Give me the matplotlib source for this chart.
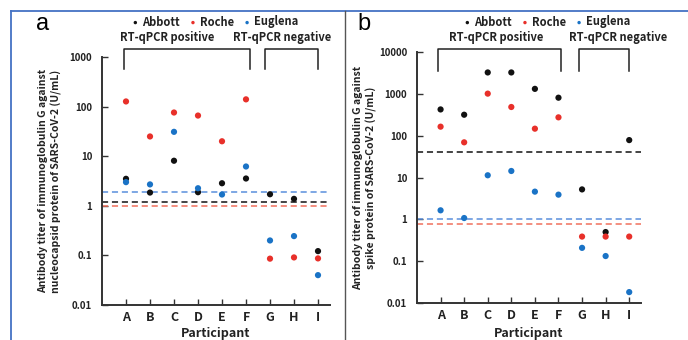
import matplotlib.pyplot as plt
from matplotlib.lines import Line2D
import numpy as np

plt.rcParams['font.family'] = ['Noto Sans CJK JP', 'DejaVu Sans']

participants = ['A', 'B', 'C', 'D', 'E', 'F', 'G', 'H', 'I']
assays = ['Abbott', 'Roche', 'Euglena']

# panel a: nucleocapsid IgG (U/mL)
n_abbott = [3.5, 1.85, 8.1, 1.88, 2.85, 3.55, 1.71, 1.38, 0.122]
n_roche = [127, 25, 76, 66, 20, 140, 0.086, 0.091, 0.087]
n_euglena = [3.0, 2.7, 31, 2.26, 1.69, 6.2, 0.20, 0.245, 0.040]
n_cutoff = {'Abbott': 1.22, 'Roche': 1.0, 'Euglena': 1.88}

# panel b: spike IgG (U/mL)
s_abbott = [420, 314, 3200, 3200, 1300, 800, 5.2, 0.50, 78]
s_roche = [163, 69, 1000, 480, 146, 272, 0.39, 0.39, 0.39]
s_euglena = [1.65, 1.08, 11.3, 14.3, 4.6, 3.9, 0.21, 0.134, 0.0185]
s_cutoff = {'Abbott': 41, 'Roche': 0.76, 'Euglena': 1.0}

dot_colors = {'Abbott': '#111111', 'Roche': '#e8302a', 'Euglena': '#1a73c6'}
line_colors = {'Abbott': '#111111', 'Roche': '#f0705c', 'Euglena': '#5a8fdc'}

W, H = 688, 340
fig = plt.figure(figsize=(W / 100, H / 100), dpi=100)


def px_axes(left, top, right, bottom):
    return fig.add_axes([left / W, 1 - bottom / H, (right - left) / W, (bottom - top) / H])


def panel(ax, series, cutoffs, yticks, ylabel, letter, label_x, text_x, brackets):
    x = np.arange(1, len(participants) + 1)
    for name, vals in zip(assays, series):
        ax.scatter(x, vals, s=20, color=dot_colors[name], zorder=3, label=name,
                   edgecolors='none')
    for name in ['Euglena', 'Abbott', 'Roche']:
        ax.axhline(cutoffs[name], color=line_colors[name], ls=(0, (4, 2.5)), lw=1.1, zorder=2)
    ax.set_yscale('log')
    ax.set_ylim(yticks[0], yticks[-1])
    ax.set_yticks(yticks)
    ax.set_yticklabels([('%g' % t) for t in yticks], fontsize=7, fontweight='bold', color='#222')
    ax.minorticks_off()
    ax.set_xlim(0, 9.5)
    ax.set_xticks(x)
    ax.set_xticklabels(participants, fontsize=9, fontweight='bold', color='#222')
    ax.tick_params(direction='in', length=4, width=1, color='#333')
    ax.tick_params(axis='y', pad=7)
    ax.tick_params(axis='x', pad=4)
    for s in ['top', 'right']:
        ax.spines[s].set_visible(False)
    for s in ['left', 'bottom']:
        ax.spines[s].set_linewidth(1.4)
        ax.spines[s].set_color('#333')

    # brackets over positive / negative groups
    tr = ax.get_xaxis_transform()
    for (x0, x1), (ytop, ybot) in brackets:
        ax.plot([x0, x0, x1, x1], [ybot, ytop, ytop, ybot], color='#222', lw=1.1,
                transform=tr, clip_on=False)

    pos = ax.get_position()
    fig.text(pos.x0 - 52 / W, pos.y0 + pos.height / 2, ylabel, rotation=90,
             ha='center', va='center', fontsize=7.5, fontweight='bold', color='#222',
             linespacing=1.35)
    fig.text(label_x / W, 1 - 24 / H, letter, fontsize=17, family='Liberation Sans',
             ha='center', va='center')
    leg = ax.legend(loc='center', bbox_to_anchor=(text_x[0] / W, 1 - 22 / H),
                    bbox_transform=fig.transFigure, ncol=3, frameon=False,
                    markerscale=0.55, handlelength=0.6, handletextpad=0.3,
                    columnspacing=0.9, prop={'size': 8, 'weight': 'bold'})
    for t in leg.get_texts():
        t.set_color('#222')
    fig.text(text_x[1] / W, 1 - 38 / H, 'RT-qPCR positive', fontsize=8, fontweight='bold',
             ha='center', va='center', color='#222')
    fig.text(text_x[2] / W, 1 - 38 / H, 'RT-qPCR negative', fontsize=8, fontweight='bold',
             ha='center', va='center', color='#222')
    fig.text((pos.x0 + pos.width / 2), 0, 'Participant', fontsize=9,
             fontweight='bold', ha='center', va='bottom', color='#222')


ax_a = px_axes(102, 57, 330, 305)
panel(ax_a, [n_abbott, n_roche, n_euglena], n_cutoff, [0.01, 0.1, 1, 10, 100, 1000],
      'Antibody titer of immunoglobulin G against\nnucleocapsid protein of SARS-CoV-2 (U/mL)',
      'a', 43, (215, 167, 282),
      [((0.92, 6.15), (1.033, 0.953)), ((6.8, 8.98), (1.033, 0.953))])

ax_b = px_axes(417, 51.7, 641, 303.3)
panel(ax_b, [s_abbott, s_roche, s_euglena], s_cutoff,
      [0.01, 0.1, 1, 10, 100, 1000, 10000],
      'Antibody titer of immunoglobulin G against\nspike protein of SARS-CoV-2 (U/mL)',
      'b', 364, (547, 496, 618),
      [((0.89, 6.11), (1.009, 0.925)), ((6.87, 8.98), (1.009, 0.925))])

# outer frame lines
fig.add_artist(Line2D([11 / W, 1], [1 - 11 / H, 1 - 11 / H], color='#4472c4', lw=1.3))
fig.add_artist(Line2D([11 / W, 11 / W], [0, 1 - 11 / H], color='#4472c4', lw=1.3))
fig.add_artist(Line2D([345 / W, 345 / W], [0, 1 - 11 / H], color='#555555', lw=1.0))

fig.savefig('out.png', dpi=100)
